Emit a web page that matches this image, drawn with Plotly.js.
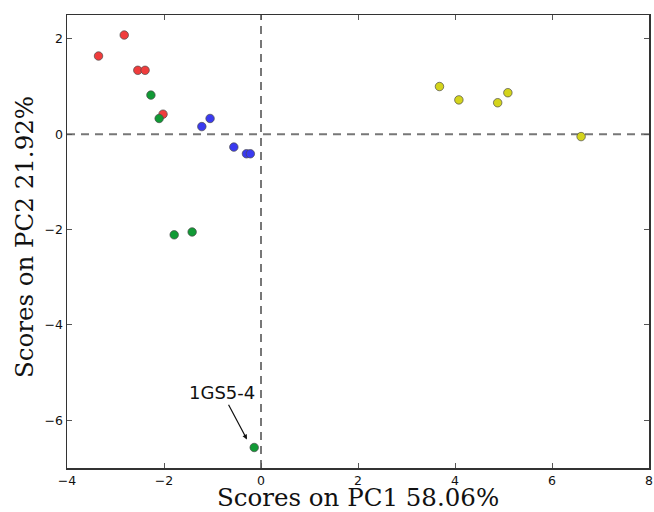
<!DOCTYPE html>
<html>
<head>
<meta charset="utf-8">
<script src="https://cdn.plot.ly/plotly-3.0.1.min.js"></script>
<style>
  html, body { margin: 0; padding: 0; background: #fff; }
  #chart { width: 654px; height: 512px; }
</style>
</head>
<body>
<div id="chart"></div>
<script>
// PCA scores, one group per colour
const redPC1 = [-3.35, -2.82, -2.54, -2.39, -2.02];
const redPC2 = [1.64, 2.08, 1.34, 1.34, 0.42];

const greenPC1 = [-2.27, -2.10, -1.79, -1.42, -0.14];
const greenPC2 = [0.82, 0.33, -2.11, -2.05, -6.57];

const bluePC1 = [-1.22, -1.05, -0.56, -0.30, -0.22];
const bluePC2 = [0.16, 0.33, -0.27, -0.41, -0.41];

const yellowPC1 = [3.68, 4.08, 4.88, 5.09, 6.60];
const yellowPC2 = [1.00, 0.72, 0.66, 0.87, -0.05];

const labelName = '1GS5-4';
const labelPC1 = -0.14;
const labelPC2 = -6.57;

const xTicks = [-4, -2, 0, 2, 4, 6, 8];
const yTicks = [-6, -4, -2, 0, 2];

const xTitle = 'Scores on PC1 58.06%';
const yTitle = 'Scores on PC2 21.92%';

function group(x, y, color) {
  return {
    x: x, y: y, type: 'scatter', mode: 'markers',
    marker: { size: 8.5, color: color, line: { color: '#4a4a4a', width: 0.7 } },
    hoverinfo: 'x+y', showlegend: false
  };
}

const traces = [
  group(redPC1, redPC2, '#f03c3c'),
  group(greenPC1, greenPC2, '#119a35'),
  group(bluePC1, bluePC2, '#3a3af0'),
  group(yellowPC1, yellowPC2, '#d4d41c')
];

const axisCommon = {
  showgrid: false, zeroline: false,
  showline: true, linecolor: '#333', linewidth: 1.5, mirror: 'ticks',
  ticks: 'inside', ticklen: 5, tickcolor: '#555', tickwidth: 1,
  tickfont: { family: 'DejaVu Sans', size: 12.5, color: '#111' }
};

const titleFont = { family: 'DejaVu Serif', size: 24.5, color: '#111' };

const layout = {
  width: 654, height: 512,
  margin: { l: 67, r: 5, t: 15, b: 44 },
  paper_bgcolor: '#fff', plot_bgcolor: '#fff',
  xaxis: Object.assign({}, axisCommon, {
    range: [-4, 8], tickvals: xTicks, ticklabelstandoff: 0
  }),
  yaxis: Object.assign({}, axisCommon, {
    range: [-7, 2.5], tickvals: yTicks
  }),
  shapes: [
    { type: 'line', xref: 'x', yref: 'paper', x0: 0, x1: 0, y0: 0, y1: 1,
      line: { color: '#777', width: 2, dash: '8px,6px' }, layer: 'below' },
    { type: 'line', xref: 'paper', yref: 'y', x0: 0, x1: 1, y0: 0, y1: 0,
      line: { color: '#777', width: 2, dash: '8px,6px' }, layer: 'below' }
  ],
  annotations: [
    { x: labelPC1 - 0.15, y: labelPC2 + 0.17, xref: 'x', yref: 'y',
      ax: -0.80, ay: -5.42, axref: 'x', ayref: 'y',
      text: labelName, showarrow: true, arrowhead: 2, arrowsize: 0.8,
      arrowwidth: 1.2, arrowcolor: '#111',
      font: { family: 'DejaVu Sans', size: 18, color: '#111' } },
    { x: 0.5, y: -0.0655, xref: 'paper', yref: 'paper',
      xanchor: 'center', yanchor: 'middle', showarrow: false,
      text: xTitle, font: titleFont },
    { x: -0.072, y: 0.51, xref: 'paper', yref: 'paper',
      xanchor: 'center', yanchor: 'middle', showarrow: false, textangle: -90,
      text: yTitle, font: titleFont }
  ]
};

Plotly.newPlot('chart', traces, layout, { displayModeBar: false, staticPlot: true });
</script>
</body>
</html>
